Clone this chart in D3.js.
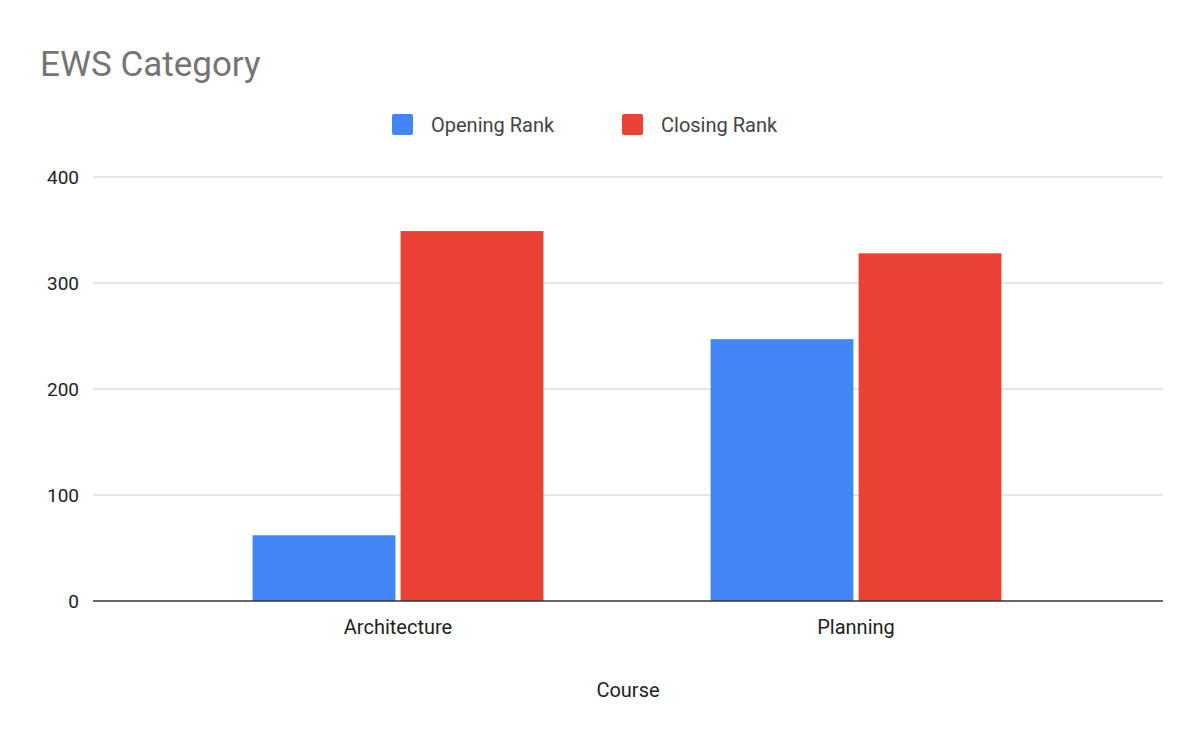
<!DOCTYPE html>
<html><head><meta charset="utf-8">
<script src="https://cdn.jsdelivr.net/npm/d3@7"></script>
<style>body{margin:0;background:#fff}text{font-family:Roboto,Arial,sans-serif}</style>
</head><body>
<svg id="chart" width="1200" height="742"></svg>
<script>
const courses = ["Architecture", "Planning"];
const seriesNames = ["Opening Rank", "Closing Rank"];
const openingRank = [62, 247];
const closingRank = [349, 328];
const colors = ["#4285f4", "#ea4335"];
const yTicks = [0, 100, 200, 300, 400];

const svg = d3.select("#chart");
const x = d3.scaleBand().domain(courses).range([169, 1085]).paddingInner(0.365).paddingOuter(0.1825);
const xs = d3.scaleBand().domain(seriesNames).range([0, x.bandwidth()]).paddingInner(0.035);
const y = d3.scaleLinear().domain([0, 400]).range([601, 177]);

svg.append("text").attr("x", 40).attr("y", 76).attr("font-size", 35).attr("fill", "#757575").text("EWS Category");

// grid
svg.append("g").selectAll("line").data(yTicks.slice(1)).join("line")
  .attr("x1", 93).attr("x2", 1163).attr("y1", d => y(d)).attr("y2", d => y(d))
  .attr("stroke", "#cccccc");
svg.append("g").selectAll("text").data(yTicks).join("text")
  .attr("x", 79).attr("y", d => y(d)).attr("dy", "0.35em").attr("text-anchor", "end")
  .attr("font-size", 19).attr("fill", "#222").text(d => d);

const rows = courses.map((c, i) => ({ c, vals: [openingRank[i], closingRank[i]] }));
svg.append("g").selectAll("g").data(rows).join("g")
  .attr("transform", d => `translate(${x(d.c)},0)`)
  .selectAll("rect").data(d => d.vals.map((v, j) => ({ s: seriesNames[j], v, j }))).join("rect")
  .attr("x", d => xs(d.s)).attr("width", xs.bandwidth())
  .attr("y", d => y(d.v)).attr("height", d => y(0) - y(d.v))
  .attr("fill", d => colors[d.j]);

svg.append("line").attr("x1", 93).attr("x2", 1163).attr("y1", 601).attr("y2", 601).attr("stroke", "#333").attr("stroke-width", 1.5);
svg.append("g").selectAll("text").data(courses).join("text")
  .attr("x", d => x(d) + x.bandwidth() / 2).attr("y", 634).attr("text-anchor", "middle")
  .attr("font-size", 20).attr("fill", "#222").text(d => d);
svg.append("text").attr("x", 628).attr("y", 697).attr("text-anchor", "middle")
  .attr("font-size", 20).attr("fill", "#222").text("Course");

// legend
const lg = [{ x: 392 }, { x: 622 }];
seriesNames.forEach((s, i) => {
  svg.append("rect").attr("x", lg[i].x).attr("y", 114).attr("width", 21).attr("height", 21).attr("rx", 2).attr("fill", colors[i]);
  svg.append("text").attr("x", lg[i].x + 39).attr("y", 125).attr("dy", "0.35em")
    .attr("font-size", 20).attr("fill", "#444").text(s);
});
</script>
</body></html>
